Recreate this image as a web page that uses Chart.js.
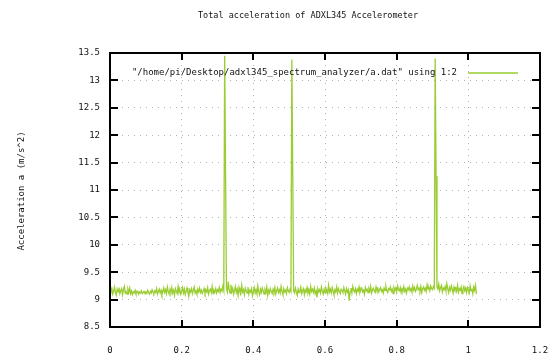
<!DOCTYPE html>
<html>
<head>
<meta charset="utf-8">
<script src="https://cdn.jsdelivr.net/npm/chart.js@4.4.0/dist/chart.umd.min.js"></script>
<style>
  body { margin: 0; background: #fff; }
  canvas { display: block; }
</style>
</head>
<body>
<canvas id="accel-chart" width="551" height="356"></canvas>
<script>
// sample spacing of a.dat column 1 (seconds)
const sampleStep = 0.0025;

// column 2 of a.dat, total acceleration (m/s^2)
const accelValues = [
    9.12, 9.17, 9.21, 9.10, 9.15, 9.23, 9.13, 9.08, 9.19, 9.14,
    9.22, 9.11, 9.16, 9.20, 9.09, 9.18, 9.24, 9.12, 9.15, 9.10,
    9.19, 9.13, 9.21, 9.11, 9.16, 9.09, 9.14, 9.12, 9.17, 9.11,
    9.13, 9.15, 9.10, 9.14, 9.12, 9.16, 9.11, 9.13, 9.15, 9.12,
    9.14, 9.11, 9.17, 9.13, 9.10, 9.15, 9.12, 9.18, 9.14, 9.11,
    9.16, 9.13, 9.20, 9.10, 9.15, 9.19, 9.12, 9.17, 9.09, 9.14,
    9.21, 9.13, 9.18, 9.11, 9.23, 9.15, 9.10, 9.19, 9.14, 9.22,
    9.12, 9.17, 9.08, 9.20, 9.15, 9.11, 9.24, 9.13, 9.18, 9.10,
    9.16, 9.22, 9.12, 9.19, 9.09, 9.15, 9.21, 9.13, 9.07, 9.18,
    9.14, 9.20, 9.11, 9.17, 9.23, 9.12, 9.16, 9.10, 9.19, 9.14,
    9.21, 9.13, 9.17, 9.11, 9.15, 9.20, 9.12, 9.18, 9.14, 9.22,
    9.10, 9.16, 9.19, 9.13, 9.24, 9.11, 9.17, 9.14, 9.20, 9.12,
    9.18, 9.15, 9.22, 9.13, 9.19, 9.16, 9.25, 9.17, 13.45, 11.30,
    9.20, 9.14, 9.33, 9.18, 9.12, 9.27, 9.15, 9.21, 9.10, 9.17,
    9.24, 9.13, 9.19, 9.08, 9.22, 9.15, 9.11, 9.26, 9.14, 9.18,
    9.09, 9.21, 9.16, 9.12, 9.23, 9.10, 9.17, 9.14, 9.20, 9.07,
    9.15, 9.22, 9.12, 9.18, 9.11, 9.25, 9.14, 9.09, 9.19, 9.13,
    9.21, 9.16, 9.10, 9.18, 9.13, 9.23, 9.08, 9.17, 9.12, 9.20,
    9.15, 9.11, 9.19, 9.14, 9.22, 9.10, 9.16, 9.21, 9.13, 9.18,
    9.12, 9.24, 9.15, 9.09, 9.20, 9.14, 9.17, 9.11, 9.22, 9.16,
    9.13, 9.19, 9.15, 13.38, 11.27, 9.16, 9.12, 9.21, 9.14, 9.08,
    9.19, 9.13, 9.17, 9.23, 9.11, 9.16, 9.20, 9.09, 9.18, 9.14,
    9.22, 9.12, 9.17, 9.10, 9.24, 9.15, 9.19, 9.13, 9.21, 9.11,
    9.16, 9.04, 9.20, 9.14, 9.18, 9.12, 9.23, 9.15, 9.10, 9.19,
    9.13, 9.21, 9.17, 9.11, 9.26, 9.14, 9.19, 9.12, 9.22, 9.16,
    9.09, 9.18, 9.14, 9.23, 9.12, 9.20, 9.15, 9.11, 9.19, 9.17,
    9.13, 9.22, 9.16, 9.10, 9.20, 9.14, 9.18, 8.98, 9.15, 9.21,
    9.12, 9.24, 9.17, 9.14, 9.20, 9.11, 9.19, 9.15, 9.23, 9.13,
    9.18, 9.21, 9.14, 9.17, 9.10, 9.22, 9.16, 9.19, 9.13, 9.20,
    9.15, 9.24, 9.12, 9.18, 9.21, 9.16, 9.13, 9.23, 9.17, 9.20,
    9.14, 9.19, 9.22, 9.15, 9.18, 9.12, 9.21, 9.17, 9.24, 9.16,
    9.13, 9.20, 9.18, 9.23, 9.15, 9.19, 9.11, 9.22, 9.17, 9.21,
    9.14, 9.25, 9.18, 9.16, 9.22, 9.13, 9.20, 9.17, 9.24, 9.15,
    9.19, 9.12, 9.21, 9.18, 9.23, 9.16, 9.20, 9.14, 9.25, 9.17,
    9.22, 9.15, 9.19, 9.26, 9.18, 9.21, 9.16, 9.24, 9.13, 9.20,
    9.23, 9.17, 9.21, 9.15, 9.27, 9.19, 9.22, 9.16, 9.25, 9.20,
    9.18, 9.24, 9.21, 13.40, 11.25, 9.23, 9.19, 9.28, 9.16, 9.22,
    9.26, 9.14, 9.21, 9.18, 9.24, 9.16, 9.29, 9.20, 9.13, 9.22,
    9.17, 9.25, 9.19, 9.12, 9.23, 9.18, 9.21, 9.15, 9.26, 9.14,
    9.20, 9.17, 9.23, 9.11, 9.19, 9.24, 9.16, 9.21, 9.13, 9.22,
    9.18, 9.12, 9.25, 9.16, 9.20, 9.11, 9.23, 9.17, 9.26, 9.10
];

const xTicks = [0, 0.2, 0.4, 0.6, 0.8, 1, 1.2];
const yTicks = [8.5, 9, 9.5, 10, 10.5, 11, 11.5, 12, 12.5, 13, 13.5];

const chartTitle = 'Total acceleration of ADXL345 Accelerometer';
const yLabel = 'Acceleration a (m/s^2)';
const seriesLabel = '"/home/pi/Desktop/adxl345_spectrum_analyzer/a.dat" using 1:2';

const lineColor = '#9acd32';
const mono = '"DejaVu Sans Mono", "Liberation Mono", monospace';

const points = accelValues.map((v, i) => ({ x: i * sampleStep, y: v }));

const fmt = v => String(Math.round(v * 10) / 10);

// gnuplot-ish frame: border, inward ticks, title, ylabel, key
const gnuplotFrame = {
    id: 'gnuplotFrame',
    afterDraw(chart) {
        const ctx = chart.ctx;
        const a = chart.chartArea;
        const xs = chart.scales.x;
        const ys = chart.scales.y;
        ctx.save();
        ctx.strokeStyle = '#000';
        ctx.lineWidth = 2;
        ctx.strokeRect(a.left, a.top, a.right - a.left, a.bottom - a.top);

        ctx.beginPath();
        xTicks.forEach(t => {
            const px = Math.round(xs.getPixelForValue(t));
            ctx.moveTo(px, a.bottom); ctx.lineTo(px, a.bottom - 7);
            ctx.moveTo(px, a.top); ctx.lineTo(px, a.top + 7);
        });
        yTicks.forEach(t => {
            const py = Math.round(ys.getPixelForValue(t));
            ctx.moveTo(a.left, py); ctx.lineTo(a.left + 8, py);
            ctx.moveTo(a.right, py); ctx.lineTo(a.right - 8, py);
        });
        ctx.stroke();

        ctx.fillStyle = '#111';
        ctx.font = '8.5px ' + mono;
        ctx.textAlign = 'center';
        ctx.textBaseline = 'middle';
        ctx.fillText(chartTitle, 308, 16);

        ctx.font = '9px ' + mono;
        ctx.save();
        ctx.translate(22, 191);
        ctx.rotate(-Math.PI / 2);
        ctx.fillText(yLabel, 0, 0);
        ctx.restore();

        ctx.textAlign = 'right';
        ctx.fillText(seriesLabel, 457, 73);
        ctx.strokeStyle = lineColor;
        ctx.lineWidth = 1.3;
        ctx.beginPath();
        ctx.moveTo(468, 73);
        ctx.lineTo(518, 73);
        ctx.stroke();
        ctx.restore();
    }
};

const ctx = document.getElementById('accel-chart').getContext('2d');
new Chart(ctx, {
    type: 'scatter',
    data: {
        datasets: [{
            label: seriesLabel,
            data: points,
            showLine: true,
            borderColor: lineColor,
            backgroundColor: lineColor,
            borderWidth: 1.3,
            pointRadius: 0,
            tension: 0
        }]
    },
    options: {
        responsive: false,
        animation: false,
        layout: { padding: { top: 53, right: 11, left: 0, bottom: 0 } },
        plugins: {
            legend: { display: false },
            title: { display: false },
            tooltip: { enabled: false }
        },
        scales: {
            x: {
                type: 'linear',
                min: 0,
                max: 1.2,
                afterFit: s => { s.height = 29; s.paddingLeft = 0; s.paddingRight = 0; },
                afterBuildTicks: s => { s.ticks = xTicks.map(v => ({ value: v })); },
                ticks: {
                    autoSkip: false,
                    maxRotation: 0,
                    padding: 18,
                    color: '#111',
                    font: { family: mono, size: 9 },
                    callback: fmt
                },
                grid: { color: '#b4b4b4', drawTicks: false, lineWidth: 1 },
                border: { display: false, dash: [1, 5] }
            },
            y: {
                type: 'linear',
                min: 8.5,
                max: 13.5,
                afterFit: s => { s.width = 110; s.paddingTop = 0; s.paddingBottom = 0; },
                afterBuildTicks: s => { s.ticks = yTicks.map(v => ({ value: v })); },
                ticks: {
                    autoSkip: false,
                    padding: 10,
                    color: '#111',
                    font: { family: mono, size: 9 },
                    callback: fmt
                },
                grid: { color: '#b4b4b4', drawTicks: false, lineWidth: 1 },
                border: { display: false, dash: [1, 5] }
            }
        }
    },
    plugins: [gnuplotFrame]
});
</script>
</body>
</html>
